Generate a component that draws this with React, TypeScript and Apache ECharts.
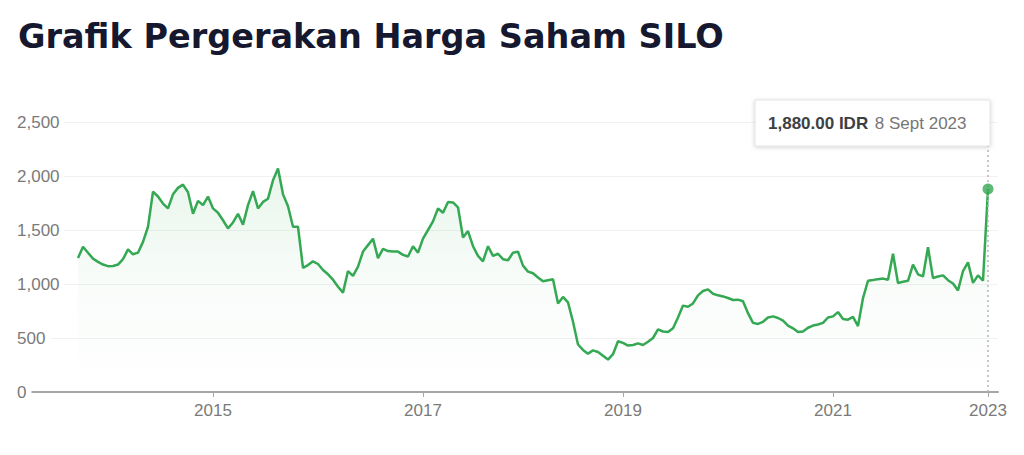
import React, { useEffect, useRef } from "react";
import * as echarts from "echarts";

const TITLE = "Grafik Pergerakan Harga Saham SILO";

// price series, one reading every step along the x axis (IDR)
const prices: number[] = [
  1240, 1345, 1290, 1235, 1205, 1180, 1165, 1167, 1180, 1230,
  1320, 1275, 1290, 1390, 1530, 1855, 1810, 1745, 1700, 1830,
  1890, 1920, 1850, 1650, 1770, 1730, 1810, 1700, 1660, 1590,
  1515, 1570, 1650, 1550, 1730, 1860, 1700, 1760, 1790, 1960,
  2070, 1830, 1720, 1530, 1530, 1150, 1175, 1210, 1185, 1130,
  1090, 1040, 975, 920, 1120, 1075, 1160, 1300, 1360, 1420,
  1240, 1325, 1305, 1300, 1300, 1270, 1255, 1350, 1290, 1420,
  1500, 1580, 1700, 1660, 1760, 1755, 1710, 1430, 1490, 1350,
  1260, 1210, 1350, 1260, 1280, 1230, 1220, 1290, 1300, 1170,
  1115, 1100, 1060, 1025, 1035, 1045, 820, 880, 830, 650,
  440, 390, 355, 385, 370, 335, 300, 350, 470, 455,
  430, 435, 450, 435, 465, 500, 580, 560, 555, 590,
  690, 800, 790, 820, 895, 935, 950, 910, 895, 885,
  870, 852, 855, 840, 730, 640, 630, 650, 690, 700,
  685, 660, 615, 590, 555, 560, 595, 615, 625, 640,
  690, 700, 740, 675, 670, 695, 610, 870, 1030, 1037,
  1045, 1050, 1040, 1280, 1010, 1020, 1030, 1180, 1090, 1070,
  1340, 1055, 1070, 1080, 1035, 1005, 940, 1120, 1200, 1010,
  1080, 1030, 1880,
];

const LEAD_EMPTY = 10; // axis starts before the first trading day
const TRAIL_EMPTY = 2;

// year tick labels and the category index where each sits
const yearLabels = ["2015", "2017", "2019", "2021", "2023"];
const yearIndex = [37, 79, 119, 161, 192];

const lastLabelPrice = "1,880.00 IDR";
const lastLabelDate = "8 Sept 2023";

const GREEN = "#34a853";

export default function App() {
  const ref = useRef<HTMLDivElement>(null);

  useEffect(() => {
    document.body.style.margin = "0";
    if (!ref.current) return;
    const chart = echarts.init(ref.current, undefined, { renderer: "svg" });

    const series: (number | null)[] = [
      ...Array(LEAD_EMPTY).fill(null),
      ...prices,
      ...Array(TRAIL_EMPTY).fill(null),
    ];
    const categories = series.map((_, i) => String(i));
    const lastIdx = LEAD_EMPTY + prices.length - 1;
    const lastVal = prices[prices.length - 1];

    const showTick = (i: number) => yearIndex.includes(i);

    chart.setOption({
      animation: false,
      grid: { left: 28, right: 26, top: 122, bottom: 63 },
      xAxis: {
        type: "category",
        data: categories,
        boundaryGap: false,
        axisLine: { show: true, lineStyle: { color: "#a6a6a6", width: 2 } },
        axisTick: {
          show: true,
          interval: showTick,
          length: 5,
          lineStyle: { color: "#a6a6a6", width: 1 },
        },
        axisLabel: {
          interval: showTick,
          formatter: (_v: string, i: number) => {
            const k = yearIndex.indexOf(i);
            return k >= 0 ? yearLabels[k] : "";
          },
          color: "#7a7a7a",
          fontSize: 17,
          fontFamily: "Liberation Sans, Arial, sans-serif",
          margin: 10,
        },
        splitLine: { show: false },
      },
      yAxis: {
        type: "value",
        min: 0,
        max: 2500,
        interval: 500,
        axisLine: { show: false },
        axisTick: { show: false },
        axisLabel: {
          inside: true,
          margin: -11,
          formatter: (v: number) => v.toLocaleString("en-US"),
          color: "#7a7a7a",
          fontSize: 17,
          fontFamily: "Liberation Sans, Arial, sans-serif",
          backgroundColor: "#ffffff",
          padding: [2, 5, 2, 0],
        },
        splitLine: { show: true, lineStyle: { color: "#f1f1f1", width: 1 } },
      },
      series: [
        {
          type: "line",
          data: series,
          showSymbol: false,
          symbol: "none",
          smooth: false,
          lineStyle: { color: GREEN, width: 2.5 },
          areaStyle: {
            color: new echarts.graphic.LinearGradient(0, 0, 0, 1, [
              { offset: 0, color: "rgba(52,168,83,0.16)" },
              { offset: 0.55, color: "rgba(52,168,83,0.04)" },
              { offset: 1, color: "rgba(52,168,83,0)" },
            ]),
          },
          markLine: {
            silent: true,
            symbol: "none",
            label: { show: false },
            lineStyle: { color: "#b5b5b5", type: [2, 3], width: 1.5 },
            data: [{ xAxis: lastIdx }],
          },
          z: 3,
        },
        {
          type: "scatter",
          data: [[lastIdx, lastVal]],
          symbol: "circle",
          symbolSize: 11,
          itemStyle: { color: GREEN },
          z: 5,
        },
      ],
      graphic: [
        {
          type: "text",
          left: 18,
          top: 19,
          z: 100,
          style: {
            text: TITLE,
            fontFamily: "DejaVu Sans, sans-serif",
            fontWeight: "bold",
            fontSize: 33.5,
            fill: "#15182e",
          },
        },
        {
          type: "group",
          z: 100,
          children: [
            {
              type: "rect",
              shape: { x: 755, y: 100, width: 235, height: 46 },
              z: 100,
              style: {
                fill: "#ffffff",
                stroke: "#e3e3e3",
                lineWidth: 1,
                shadowBlur: 4,
                shadowOffsetY: 1,
                shadowColor: "rgba(0,0,0,0.18)",
              },
            },
            {
              type: "text",
              x: 768,
              y: 123,
              z: 101,
              style: {
                text: `{a|${lastLabelPrice}}  {b|${lastLabelDate}}`,
                verticalAlign: "middle",
                rich: {
                  a: {
                    fontFamily: "Liberation Sans, Arial, sans-serif",
                    fontSize: 17,
                    fontWeight: "bold",
                    fill: "#3c4043",
                    color: "#3c4043",
                  },
                  b: {
                    fontFamily: "Liberation Sans, Arial, sans-serif",
                    fontSize: 17,
                    fill: "#767676",
                    color: "#767676",
                  },
                },
              },
            },
          ],
        },
      ],
    });

    return () => chart.dispose();
  }, []);

  return <div ref={ref} style={{ width: 1024, height: 455 }} />;
}
